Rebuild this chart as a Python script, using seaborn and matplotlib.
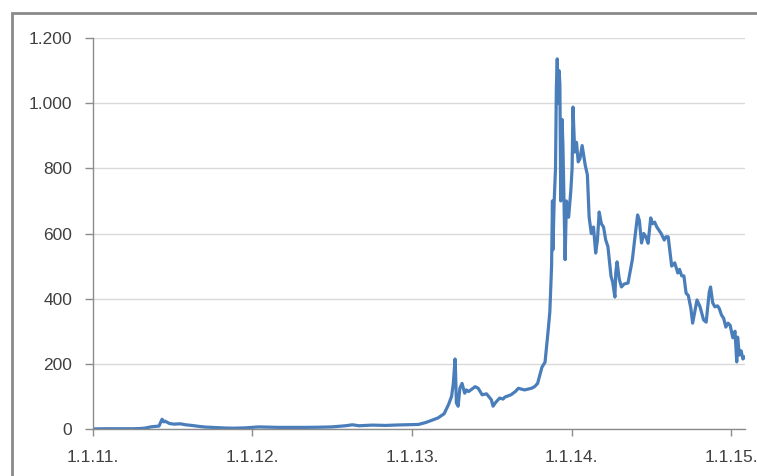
import pandas as pd
import matplotlib
matplotlib.use('Agg')
import matplotlib.pyplot as plt
import matplotlib.dates as mdates
from matplotlib.ticker import FuncFormatter
from matplotlib.patches import Rectangle
import seaborn as sns

# datumi i cijene (USD) procijenjene s grafa
dates = [
    '2011-01-01', '2011-02-01', '2011-03-01', '2011-04-01', '2011-04-20', '2011-05-01',
    '2011-05-15', '2011-06-01', '2011-06-08', '2011-06-12', '2011-06-15', '2011-06-25',
    '2011-07-05', '2011-07-20', '2011-08-01', '2011-08-15', '2011-09-01', '2011-09-15',
    '2011-10-01', '2011-10-15', '2011-11-01', '2011-11-18', '2011-12-01', '2011-12-15',
    '2012-01-01', '2012-01-15', '2012-02-01', '2012-03-01', '2012-04-01', '2012-05-01',
    '2012-06-01', '2012-07-01', '2012-08-01', '2012-08-17', '2012-09-01', '2012-10-01',
    '2012-11-01', '2012-12-01',
    '2013-01-01', '2013-01-15', '2013-02-01', '2013-02-15', '2013-03-01', '2013-03-15',
    '2013-03-25', '2013-04-01', '2013-04-05', '2013-04-09', '2013-04-10', '2013-04-12',
    '2013-04-16', '2013-04-20', '2013-04-25', '2013-05-01', '2013-05-05', '2013-05-10',
    '2013-05-20', '2013-05-25', '2013-06-01', '2013-06-10', '2013-06-20', '2013-07-01',
    '2013-07-05', '2013-07-10', '2013-07-20', '2013-07-28', '2013-08-01', '2013-08-15',
    '2013-08-25', '2013-09-01', '2013-09-15', '2013-10-01', '2013-10-08', '2013-10-15',
    '2013-10-25', '2013-11-01', '2013-11-08', '2013-11-12', '2013-11-16', '2013-11-18',
    '2013-11-19', '2013-11-22', '2013-11-25', '2013-11-27', '2013-11-29', '2013-12-01',
    '2013-12-03', '2013-12-05', '2013-12-07', '2013-12-10', '2013-12-12', '2013-12-15',
    '2013-12-17', '2013-12-20', '2013-12-25', '2013-12-30',
    '2014-01-02', '2014-01-04', '2014-01-08', '2014-01-12', '2014-01-16', '2014-01-20',
    '2014-01-25', '2014-02-01', '2014-02-06', '2014-02-10', '2014-02-15', '2014-02-20',
    '2014-02-25', '2014-03-01', '2014-03-05', '2014-03-10', '2014-03-15', '2014-03-20',
    '2014-03-25', '2014-04-01', '2014-04-05', '2014-04-10', '2014-04-12', '2014-04-15',
    '2014-04-20', '2014-04-25', '2014-05-01', '2014-05-10', '2014-05-20', '2014-05-26',
    '2014-06-01', '2014-06-05', '2014-06-10', '2014-06-15', '2014-06-20', '2014-06-25',
    '2014-07-01', '2014-07-05', '2014-07-10', '2014-07-15', '2014-07-25', '2014-08-01',
    '2014-08-05', '2014-08-10', '2014-08-18', '2014-08-25', '2014-09-01', '2014-09-05',
    '2014-09-10', '2014-09-15', '2014-09-20', '2014-09-25', '2014-10-01', '2014-10-05',
    '2014-10-10', '2014-10-15', '2014-10-22', '2014-10-30', '2014-11-05', '2014-11-12',
    '2014-11-15', '2014-11-20', '2014-11-25', '2014-12-01', '2014-12-05', '2014-12-10',
    '2014-12-15', '2014-12-20', '2014-12-25', '2014-12-30',
    '2015-01-05', '2015-01-10', '2015-01-14', '2015-01-16', '2015-01-20', '2015-01-24',
    '2015-01-28', '2015-02-02',
]
prices = [
    0.3, 0.9, 0.9, 0.8, 1.5, 3,
    7, 9, 30, 22, 24, 17,
    15, 16, 13, 11, 8, 6,
    5, 4, 3, 2.5, 3, 3.5,
    5, 6.5, 6, 5, 5, 5,
    5.5, 6.5, 10, 13, 10, 12,
    11, 12.5,
    13.5, 14, 20, 27, 34, 47,
    75, 100, 140, 215, 180, 80,
    70, 125, 140, 110, 120, 115,
    125, 130, 125, 105, 108, 90,
    70, 80, 95, 92, 98, 105,
    115, 125, 120, 125, 130, 140,
    190, 205, 300, 360, 500, 700,
    550, 700, 800, 1050, 1136, 1000,
    1100, 1060, 700, 950, 870, 650,
    520, 700, 650, 730,
    800, 988, 850, 880, 820, 830,
    870, 810, 780, 650, 600, 620,
    540, 580, 666, 630, 620, 580,
    560, 470, 450, 405, 480, 513,
    460, 436, 445, 448, 520, 590,
    657, 640, 571, 600, 590, 570,
    648, 630, 635, 620, 600, 580,
    590, 590, 500, 510, 479, 490,
    470, 470, 417, 410, 370, 325,
    360, 396, 375, 335, 328, 420,
    436, 387, 375, 378, 370, 350,
    340, 313, 325, 318,
    280, 300, 206, 282, 227, 240,
    215, 222,
]
year_ticks = ['2011-01-01', '2012-01-01', '2013-01-01', '2014-01-01', '2015-01-01']
y_ticks = [0, 200, 400, 600, 800, 1000, 1200]

df = pd.DataFrame({'datum': pd.to_datetime(dates), 'cijena': prices})

sns.set_style('white')
plt.rcParams['font.family'] = ['Liberation Sans', 'DejaVu Sans']

fig = plt.figure(figsize=(7.57, 4.76), dpi=100)
ax = fig.add_axes([0.1229, 0.0987, 0.8613, 0.8214])

sns.lineplot(x='datum', y='cijena', data=df, ax=ax, color='#4a7ebb', linewidth=2.3)

ax.set_xlim(df['datum'].iloc[0], df['datum'].iloc[-1])
ax.set_ylim(0, 1200)
ax.set_yticks(y_ticks)
ax.yaxis.set_major_formatter(FuncFormatter(lambda v, p: f'{int(v):,}'.replace(',', '.')))
ax.set_xticks(pd.to_datetime(year_ticks))
ax.xaxis.set_major_formatter(mdates.DateFormatter('1.1.%y.'))
ax.set_xlabel('')
ax.set_ylabel('')

ax.grid(axis='y', color='#d9d9d9', linewidth=1)
ax.set_axisbelow(True)
for s in ['top', 'right']:
    ax.spines[s].set_visible(False)
for s in ['left', 'bottom']:
    ax.spines[s].set_color('#8c8c8c')
    ax.spines[s].set_linewidth(1)
ax.tick_params(axis='y', length=6, width=1, color='#8c8c8c', pad=9, labelsize=12.5, labelcolor='#404040', left=True)
ax.tick_params(axis='x', length=5, width=1, color='#8c8c8c', pad=10, labelsize=12.5, labelcolor='#404040', bottom=True)

# okvir oko grafa
fig.patches.append(Rectangle((12 / 757, -0.2), 1.2, 1.2 - 13 / 476, transform=fig.transFigure,
                             fill=False, edgecolor='#8a8a8a', linewidth=2))

fig.savefig('out.png', dpi=100)
